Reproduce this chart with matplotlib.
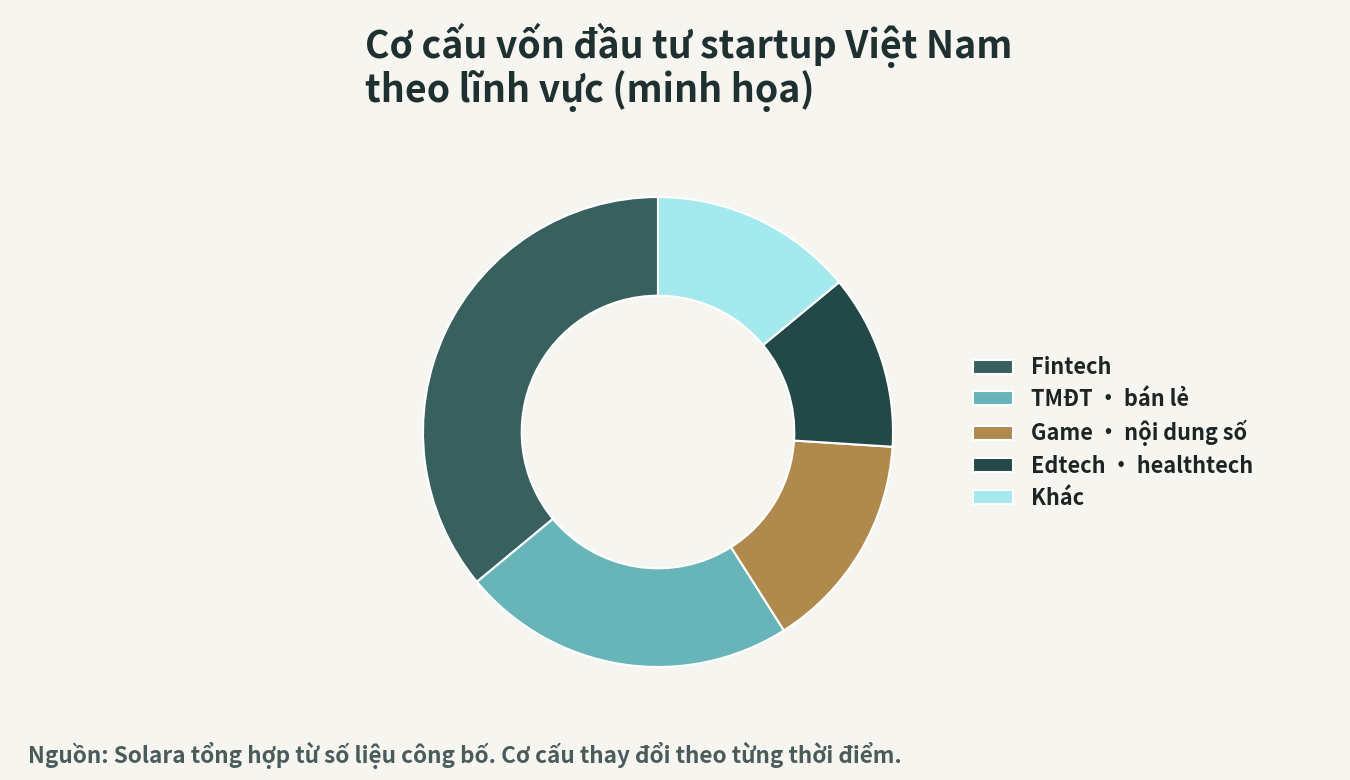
import matplotlib.pyplot as plt

plt.rcParams['font.family'] = ['Noto Sans CJK SC', 'DejaVu Sans']

# Data
sectors = ["Fintech", "TMĐT · bán lẻ", "Game · nội dung số", "Edtech · healthtech", "Khác"]
shares = [36, 23, 15, 12, 14]
colors = ["#37605f", "#67b5b9", "#b0894d", "#234848", "#a3e9ee"]

title = "Cơ cấu vốn đầu tư startup Việt Nam\ntheo lĩnh vực (minh họa)"
source = "Nguồn: Solara tổng hợp từ số liệu công bố. Cơ cấu thay đổi theo từng thời điểm."

bg = "#f6f5f0"

fig = plt.figure(figsize=(13.5, 7.8), dpi=100, facecolor=bg)

# Axes sized so the donut sits where it does in the reference
ax = fig.add_axes([423 / 1350, 113 / 780, 470 / 1350, 470 / 780])
ax.set_facecolor(bg)

wedges, _ = ax.pie(shares, colors=colors, startangle=90, counterclock=True,
                   radius=1.0,
                   wedgeprops=dict(width=0.42, edgecolor="white", linewidth=1.5))
ax.set_xlim(-1, 1)
ax.set_ylim(-1, 1)
ax.set_aspect("equal")
ax.axis("off")

leg = fig.legend(wedges, sectors, loc="center left",
                 bbox_to_anchor=(953 / 1350, 1 - 433 / 780),
                 frameon=False, handlelength=1.85, handleheight=0.62,
                 handletextpad=0.85, labelspacing=0.4,
                 prop=dict(size=15.6, weight="bold"))
for t in leg.get_texts():
    t.set_color("#1c2424")

fig.text(365 / 1350, 1 - 23 / 780, title, ha="left", va="top",
         fontsize=27, fontweight="bold", color="#1f3030", linespacing=1.05)

fig.text(28 / 1350, 1 - 755 / 780, source, ha="left", va="center",
         fontsize=16.2, fontweight="bold", color="#4a5b5b")

fig.savefig("out.png", dpi=100, facecolor=bg)
